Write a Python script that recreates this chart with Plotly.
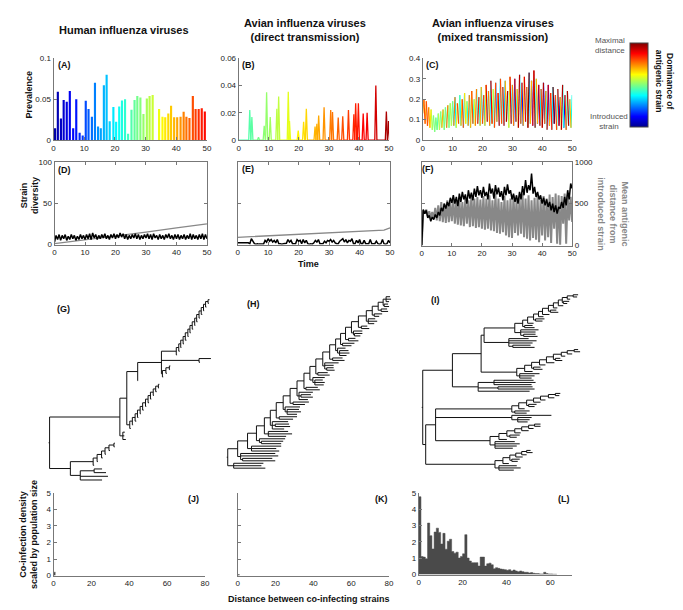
import numpy as np
import plotly.graph_objects as go
from plotly.colors import sample_colorscale

# ---------------------------------------------------------------- data
A_TIME = [0.5, 1.4, 2.4, 3.3, 4.3, 5.3, 6.4, 7.4, 8.5, 9.5, 10.5, 11.4, 12.5, 13.5, 14.5, 15.4, 16.4,
          17.3, 18.3, 19.5, 20.4, 21.4, 22.3, 23.3, 24.3, 25.4, 26.4, 27.3, 28.3, 29.3, 30.4, 31.3,
          32.3, 34.4, 35.5, 36.4, 37.4, 38.3, 39.3, 40.3, 41.4, 42.4, 43.3, 44.3, 45.4, 46.3, 47.3,
          48.3, 49.3]
A_PREV = [0.0145, 0.059, 0.0265, 0.049, 0.047, 0.060, 0.0145, 0.050, 0.009, 0.0056, 0.048, 0.038,
          0.0285, 0.070, 0.0165, 0.0145, 0.067, 0.080, 0.023, 0.0405, 0.0225, 0.041, 0.0485, 0.050,
          0.0076, 0.037, 0.049, 0.054, 0.052, 0.032, 0.051, 0.054, 0.055, 0.038, 0.0285, 0.028,
          0.0325, 0.042, 0.028, 0.028, 0.0285, 0.0345, 0.0285, 0.027, 0.054, 0.038, 0.038, 0.039,
          0.035]

B_TIME = [3.7, 4.4, 6.6, 8.5, 9.3, 10.5, 12.7, 13.3, 16.5, 16.9, 19.8, 21.6, 22.5, 25.4, 26.0, 26.6,
          28.4, 30.6, 31.2, 33.1, 34.6, 36.5, 38.3, 38.9, 39.8, 41.4, 42.7, 45.6, 49.1, 49.8]
B_PREV = [0.022, 0.017, 0.002, 0.0105, 0.035, 0.017, 0.023, 0.032, 0.0355, 0.014, 0.007, 0.0135,
          0.023, 0.010, 0.012, 0.018, 0.024, 0.022, 0.0205, 0.0165, 0.0175, 0.022, 0.019, 0.027,
          0.027, 0.0195, 0.020, 0.040, 0.021, 0.014]

C_PREV = [0.13, 0.20, 0.08, 0.19, 0.07, 0.16, 0.06, 0.15, 0.05, 0.12, 0.04, 0.11, 0.05, 0.13, 0.05,
          0.14, 0.06, 0.15, 0.05, 0.16, 0.06, 0.17, 0.06, 0.18, 0.07,
          0.19, 0.07, 0.21, 0.06, 0.18, 0.08, 0.22, 0.07, 0.20, 0.06, 0.23, 0.08, 0.19, 0.07, 0.22,
          0.06, 0.24, 0.08, 0.20, 0.07, 0.25, 0.08, 0.21, 0.07, 0.26,
          0.08, 0.22, 0.07, 0.27, 0.09, 0.24, 0.07, 0.29, 0.08, 0.25, 0.06, 0.28, 0.09, 0.23, 0.07,
          0.30, 0.08, 0.26, 0.07, 0.29, 0.09, 0.24, 0.06, 0.31, 0.08,
          0.27, 0.07, 0.30, 0.09, 0.25, 0.06, 0.32, 0.08, 0.28, 0.07, 0.31, 0.09, 0.26, 0.06, 0.33,
          0.08, 0.29, 0.07, 0.34, 0.06, 0.30, 0.08, 0.27, 0.07, 0.25,
          0.06, 0.28, 0.08, 0.24, 0.05, 0.27, 0.07, 0.23, 0.05, 0.26, 0.08, 0.22, 0.05, 0.25, 0.07,
          0.21, 0.05, 0.27, 0.06, 0.22, 0.05, 0.24, 0.07, 0.20, 0.06, 0.22]
C_STRAIN = [0.72, 0.78, 0.68, 0.80, 0.75, 0.70, 0.65, 0.55, 0.50, 0.48, 0.52, 0.50, 0.47, 0.55, 0.50,
            0.48, 0.70, 0.52, 0.50, 0.45, 0.75, 0.50, 0.48, 0.55, 0.52,
            0.40, 0.75, 0.35, 0.62, 0.78, 0.45, 0.38, 0.70, 0.80, 0.36, 0.65, 0.55, 0.40, 0.77, 0.35,
            0.68, 0.82, 0.40, 0.60, 0.75, 0.38, 0.85, 0.42, 0.70, 0.35,
            0.80, 0.30, 0.66, 0.88, 0.40, 0.74, 0.35, 0.90, 0.62, 0.38, 0.80, 0.25, 0.70, 0.92, 0.35,
            0.78, 0.40, 0.86, 0.30, 0.72, 0.95, 0.38, 0.65, 0.88, 0.33,
            0.75, 0.20, 0.90, 0.40, 0.70, 0.96, 0.35, 0.80, 0.15, 0.68, 0.92, 0.38, 0.78, 0.98, 0.30,
            0.72, 0.10, 0.85, 0.95, 0.40, 0.70, 0.12, 0.88, 0.36, 0.80,
            0.95, 0.10, 0.75, 0.40, 0.92, 0.08, 0.70, 0.85, 0.35, 0.98, 0.12, 0.78, 0.42, 0.90, 0.05,
            0.72, 0.95, 0.38, 0.10, 0.82, 0.45, 0.96, 0.35, 0.70, 0.40]

D_DIV = [3, 11, 6, 12, 5, 11, 7, 12, 5, 10, 6, 12, 7, 11, 5, 10, 6, 12, 7, 11, 6,
         12, 7, 13, 6, 14, 8, 12, 6, 11, 7, 12, 8, 13, 7, 11, 6, 12, 8, 13, 7,
         12, 8, 14, 9, 13, 7, 12, 6, 11, 7, 12, 8, 13, 7, 12, 6, 11, 7, 12, 8,
         13, 7, 12, 6, 13, 8, 11, 6, 12, 7, 11, 6, 12, 8, 13, 7, 11, 6, 12, 7,
         12, 6, 11, 7, 12, 6, 11, 7, 13, 6, 12, 7, 11, 6, 12, 7, 13, 6, 12, 7]
D_DIST_T = [0, 10, 20, 30, 40, 50]
D_DIST = [1, 5.5, 10, 15, 20, 25]

E_DIV = [2, 2, 2, 2, 2, 2, 2, 2, 1, 7, 4, 1, 0.5, 1, 0.5, 0.5, 1, 0.5, 5, 3, 7,
         4, 6, 3, 5, 2, 6, 1, 1, 0.5, 1, 1, 1.5, 6, 3, 5, 1, 1, 1, 6, 4,
         5, 1, 6, 2, 5, 1, 0.5, 1, 0.5, 2, 5, 3, 6, 1, 1, 1, 4, 2, 5, 4,
         6, 3, 5, 2, 1, 1, 4, 5, 7, 3, 6, 2, 5, 4, 7, 1, 1, 5, 2, 6,
         1, 1, 5, 1, 1, 1, 6, 1, 1, 1, 4, 1, 0.5, 1, 6, 1, 0.5, 1, 5, 2]
E_DIST_T = [0, 10, 20, 30, 40, 45, 48, 50]
E_DIST = [8.7, 10.5, 12.3, 14, 15.5, 16.5, 17.5, 20]

F_DIV = [0, 43, 38, 42, 33, 36, 29, 34, 31, 37, 33, 40, 36, 45, 41, 50, 44, 52, 47, 57, 51,
         60, 50, 58, 47, 62, 52, 64, 55, 61, 50, 66, 56, 63, 54, 68, 58, 71, 60, 66, 57,
         70, 59, 64, 55, 74, 62, 68, 56, 72, 61, 69, 58, 65, 54, 70, 60, 73, 62, 66, 55,
         62, 52, 60, 50, 64, 55, 71, 60, 78, 63, 72, 66, 86, 62, 70, 58, 64, 55, 60, 50,
         57, 48, 55, 46, 52, 42, 50, 40, 48, 38, 46, 44, 52, 45, 58, 48, 66, 55, 74, 68]
F_DIST = [0, 420, 380, 430, 350, 410, 330, 400, 320, 450, 300, 480, 290, 520, 280, 500, 270, 540, 280, 520, 290,
          550, 260, 530, 250, 560, 240, 520, 230, 570, 260, 540, 220, 600, 230, 560, 210, 580, 220, 550, 200,
          590, 190, 560, 200, 600, 180, 540, 170, 620, 150, 560, 140, 520, 160, 590, 120, 540, 100, 560, 90,
          600, 150, 550, 120, 580, 140, 620, 100, 560, 80, 600, 60, 540, 90, 570, 70, 600, 40, 550, 120,
          590, 60, 560, 100, 610, 30, 580, 200, 620, 20, 600, 10, 590, 260, 620, 20, 610, 300, 580, 280]

J_DENS = [0.2]
K_DENS = [0.06]
L_DENS = [4.76, 1.1, 1.07, 0.97, 3.15, 2.38, 1.57, 2.6, 2.84, 2.58, 1.87, 2.52, 1.55, 2.04, 2.16,
          1.41, 1.31, 1.37, 1.01, 1.11, 1.27, 2.44, 1.01, 0.83, 0.73, 0.73, 0.73, 0.52, 1.07, 1.07,
          0.52, 0.66, 0.7, 0.6, 0.36, 0.42, 0.38, 0.34, 0.32, 0.3, 0.26, 0.3, 0.22, 0.28, 0.22, 0.18,
          0.22, 0.18, 0.14, 0.14, 0.1, 0.12, 0.08, 0.06, 0.06, 0.04, 0.04, 0.14, 0.06, 0.04, 0.04,
          0.02, 0.02]

X_TICKS_TIME = [0, 10, 20, 30, 40, 50]
A_YTICKS, A_YTEXT = [0, 0.05, 0.1], ['0', '0.05', '0.1']
B_YTICKS, B_YTEXT = [0, 0.02, 0.04, 0.06], ['0', '0.02', '0.04', '0.06']
C_YTICKS, C_YTEXT = [0, 0.1, 0.2, 0.3, 0.4], ['0', '0.1', '0.2', '0.3', '0.4']
DIV_TICKS = [0, 50, 100]
DIST_TICKS = [0, 500, 1000]
DENS_TICKS = [0, 1, 2, 3, 4, 5]
DIST80_TICKS = [0, 20, 40, 60, 80]
DIST60_TICKS = [0, 20, 40, 60]


# ---------------------------------------------------------------- trees
def ladder(stem, dxs, tips, top):
    node = top
    for k in range(len(tips) - 1, -1, -1):
        node = [stem if k == 0 else dxs[k - 1], node, tips[k]]
    return node


G_LAD1 = ladder(15, [2.5, 2.0, 2.4, 2.2, 2.6, 2.1, 2.3, 2.5, 2.0, 2.4, 2.2, 2.3, 2.1, 2.5],
                [0.8, 1.0, 0.6, 0.9, 1.2, 0.7, 0.8, 1.0, 0.6, 0.9, 0.8, 1.1, 0.7, 0.9, 0.8], 1.5)
G_LONG = [38, 12, 1.0]
G_LAD2 = ladder(1, [3.5, 3.5], [0.8, 1.0, 0.7], 1.0)
G_LAD3 = ladder(3, [2.6, 2.8, 2.4, 2.7, 2.5, 2.9, 2.6, 2.4, 2.8, 2.5, 2.7],
                [1.0, 0.8, 1.2, 0.9, 0.7, 1.1, 0.8, 1.0, 0.9, 0.8, 1.0, 0.7], 1.0)
G_LAD4 = ladder(23, [4.0, 4.5, 3.5, 4.0, 5.0], [1.0, 0.8, 1.2, 0.9, 1.0, 0.8], 1.0)
TREE_G = [1,
          [71, [7, [11, [24, G_LAD1, G_LONG, G_LAD2], 0.4], G_LAD3], [3, 2.0, 1.5, 3.0]],
          [21, G_LAD4, [10, [14, 8, 12], 28, 22]]]

H_DX = [10, 9, 8, 6, 6, 7, 7, 7, 7, 6, 6, 7, 7, 6, 5, 5, 6, 7, 8, 6, 6, 5]
H_SIDE = [[3, 35, 38, [2, 30, 33]], [4, 30, 25, 28], [3, 26, [2, 22, 20]], [4, 20, 24, 18],
          [2, 16, [3, 14, 15], 12], [3, 18, 14], [2, 15, [2, 12, 14, 10]], [3, 16, 12],
          [2, 14, [2, 10, 12], 9], [2, 12, 14], [3, 12, [2, 8, 10, 9]], [2, 10, 12],
          [2, 14, 9, [2, 7, 8]], [3, 10, 12], [2, 8, [2, 9, 10, 7]], [2, 12, 9], [3, 7, 10],
          [2, 9, [1, 8, 6]], [3, 6, 8], [2, 7, 9, 6], [2, 8, 5], [3, 6, 7], [1, 4, 5]]
TREE_H = [1, ladder(10, H_DX, H_SIDE, [3, 4, 5, 3]), [6, 30, 28, 32]]

I_L1 = ladder(8, [5, 6, 5, 4, 6, 5, 5, 4, 5, 6],
              [[2, 8, 10], 6, [2, 9, 7], 5, 7, [2, 6, 8], 4, 5, [1, 6, 4], 3, 4], 5)
I_A1b = ladder(36, [8, 7, 8, 7, 7, 8, 6, 7],
               [[3, 20, 15, 12], 8, [2, 7, 9], 6, 8, [2, 5, 7], 4, 5, 6], 4)
I_B1a = ladder(77, [7, 8, 7, 7, 8, 7], [[3, 15, 12], 6, [2, 8, 6], 7, 5, 6, 4], 5)
I_B1c = ladder(55, [9, 8, 8, 7, 7, 6], [[5, 20, 25, 22, 18], 8, [3, 10, 7], 6, 7, 5, 6], 6)
I_B2 = ladder(70, [8, 7, 6, 6, 5], [[4, 18, 22, 15], 6, [2, 8, 6], 7, 5, 6], 4)
TREE_I = [1,
          [30,
           [29, [3, [31, I_L1, [6, 18, 15, [3, 12, 14]]], [25, 20, 28, 24, [4, 18, 22]]], I_A1b],
           [26, [16, 40, 42, 38], [20, 35, 37], 52]],
          [3, [10, I_B1a, [77, 40, [6, 14, 12, 10]], I_B1c], I_B2]]


def tree_segments(tree):
    xs, ys, cnt = [], [], [0]

    def rec(nd, x0):
        if not isinstance(nd, list):
            x1 = x0 + nd
            y = cnt[0]
            cnt[0] += 1
            xs.extend([x0, x1, None]); ys.extend([y, y, None])
            return y
        x1 = x0 + nd[0]
        cy = [rec(c, x1) for c in nd[1:]]
        y = (min(cy) + max(cy)) / 2
        xs.extend([x1, x1, None]); ys.extend([min(cy), max(cy), None])
        xs.extend([x0, x1, None]); ys.extend([y, y, None])
        return y

    rec(tree, 0)
    return xs, ys, cnt[0]


# ---------------------------------------------------------------- figure
W, H = 683, 610
FONT = 'Liberation Sans, Arial, Helvetica, sans-serif'
TICKFONT = dict(family=FONT, size=8, color='#222')
JET = [[0.0, 'rgb(0,0,143)'], [0.125, 'rgb(0,0,255)'], [0.375, 'rgb(0,255,255)'],
       [0.625, 'rgb(255,255,0)'], [0.875, 'rgb(255,0,0)'], [1.0, 'rgb(128,0,0)']]
AX = dict(showline=True, linecolor='#777', linewidth=1, ticks='inside', ticklen=3,
          tickcolor='#777', tickwidth=1, tickfont=TICKFONT, showgrid=False,
          zeroline=False, fixedrange=True)

axes = {}


def add_axes(n, x0, x1, y0, y1, xkw, ykw):
    s = '' if n == 1 else str(n)
    xa = dict(AX); xa.update(domain=[x0 / W, x1 / W], anchor='y' + s); xa.update(xkw)
    ya = dict(AX); ya.update(domain=[1 - y1 / H, 1 - y0 / H], anchor='x' + s); ya.update(ykw)
    axes['xaxis' + s] = xa
    axes['yaxis' + s] = ya


def jet(v):
    return sample_colorscale(JET, [min(max(v, 0), 1)])[0]


fig = go.Figure()
tx = dict(range=[0, 50], tickvals=X_TICKS_TIME)

# --- row 1
add_axes(1, 44, 199, 47, 130, tx, dict(range=[0, 0.1], tickvals=A_YTICKS, ticktext=A_YTEXT))
add_axes(2, 231, 383, 47, 130, tx, dict(range=[0, 0.06], tickvals=B_YTICKS, ticktext=B_YTEXT))
add_axes(3, 417, 568, 47, 130, tx, dict(range=[0, 0.4], tickvals=C_YTICKS, ticktext=C_YTEXT))

fig.add_trace(go.Bar(x=A_TIME, y=A_PREV, width=0.7, xaxis='x', yaxis='y',
                     marker=dict(color=A_TIME, colorscale=JET, cmin=-1, cmax=57, line_width=0)))

w = 0.35
prev_end = 0.0
for t, h in zip(B_TIME, B_PREV):
    fig.add_trace(go.Scatter(x=[prev_end, t - w, t, t + w], y=[0, 0, h, 0], mode='lines',
                             xaxis='x2', yaxis='y2',
                             line=dict(color=jet((t + 38) / 91), width=1.3)))
    prev_end = t + w

C_T = np.round(np.arange(len(C_PREV)) * 0.4, 2)
bins = {}
for i in range(len(C_PREV) - 1):
    key = round(C_STRAIN[i] * 20) / 20
    xs, ys = bins.setdefault(key, ([], []))
    xs.extend([C_T[i], C_T[i + 1], None]); ys.extend([C_PREV[i], C_PREV[i + 1], None])
for key, (xs, ys) in sorted(bins.items()):
    fig.add_trace(go.Scatter(x=xs, y=ys, mode='lines', xaxis='x3', yaxis='y3',
                             line=dict(color=jet(key), width=1.2)))

# colourbar
fig.add_trace(go.Scatter(x=[None], y=[None], mode='markers', xaxis='x', yaxis='y',
                         marker=dict(color=[0], colorscale=JET, cmin=0, cmax=1, showscale=True,
                                     colorbar=dict(x=626 / W, xanchor='left', y=1 - 74 / H,
                                                   yanchor='middle', len=84, lenmode='pixels',
                                                   thickness=18, thicknessmode='pixels',
                                                   outlinewidth=1, outlinecolor='#444',
                                                   showticklabels=False, ticks='',
                                                   xpad=0, ypad=0))))

# --- row 2
T2 = np.arange(len(D_DIV)) * 0.5
boxx = dict(range=[0, 50], tickvals=X_TICKS_TIME, mirror='ticks')
add_axes(4, 45, 199, 152, 236, boxx, dict(range=[0, 100], tickvals=DIV_TICKS, mirror='ticks'))
add_axes(5, 230, 384, 152, 236, boxx, dict(range=[0, 100], tickvals=DIV_TICKS, mirror='ticks',
                                           showticklabels=False))
add_axes(6, 416, 568, 152, 237, boxx, dict(range=[0, 1000], tickvals=DIST_TICKS, side='right'))
axes['yaxis7'] = dict(AX, overlaying='y6', side='left', anchor='x6', range=[0, 100],
                      tickvals=DIV_TICKS, showticklabels=False)

fig.add_trace(go.Scatter(x=D_DIST_T, y=D_DIST, mode='lines', xaxis='x4', yaxis='y4',
                         line=dict(color='#888', width=1.3)))
fig.add_trace(go.Scatter(x=T2, y=D_DIV, mode='lines', xaxis='x4', yaxis='y4',
                         line=dict(color='black', width=1.5)))
fig.add_trace(go.Scatter(x=E_DIST_T, y=E_DIST, mode='lines', xaxis='x5', yaxis='y5',
                         line=dict(color='#888', width=1.3)))
fig.add_trace(go.Scatter(x=T2, y=E_DIV, mode='lines', xaxis='x5', yaxis='y5',
                         line=dict(color='black', width=1.5)))
fig.add_trace(go.Scatter(x=T2, y=F_DIST, mode='lines', xaxis='x6', yaxis='y6',
                         line=dict(color='#888', width=2)))
fig.add_trace(go.Scatter(x=T2, y=F_DIV, mode='lines', xaxis='x6', yaxis='y7',
                         line=dict(color='black', width=1.5)))

# --- row 3 : trees
for n, tree, (x0, x1, root_px), (ytop, ybot) in [
        (8, TREE_G, (37, 210, 39), (292, 475)),
        (9, TREE_H, (217, 392, 219), (289, 463)),
        (10, TREE_I, (413, 600, 416), (287, 465))]:
    xs, ys, nleaf = tree_segments(tree)
    s = (ybot - ytop) / (nleaf - 1)
    off = root_px - x0
    add_axes(n, x0, x1, ytop - s / 2, ybot + s / 2,
             dict(visible=False, range=[-off, (x1 - x0) - off]),
             dict(visible=False, range=[nleaf - 0.5, -0.5]))
    fig.add_trace(go.Scatter(x=xs, y=ys, mode='lines', xaxis='x%d' % n, yaxis='y%d' % n,
                             line=dict(color='#111', width=1)))

# --- row 4 : co-infection histograms drawn as filled step outlines
add_axes(11, 44, 197, 488, 572, dict(range=[0, 80], tickvals=DIST80_TICKS, ticks=''),
         dict(range=[0, 5], tickvals=DENS_TICKS))
add_axes(12, 230, 383, 488, 572, dict(range=[0, 80], tickvals=DIST80_TICKS, ticks=''),
         dict(range=[0, 5], tickvals=DENS_TICKS, showticklabels=False))
add_axes(13, 413, 568, 488, 571, dict(range=[0, 70], tickvals=DIST60_TICKS, ticks=''),
         dict(range=[0, 5], tickvals=DENS_TICKS))
for n, dens in [(11, J_DENS), (12, K_DENS), (13, L_DENS)]:
    edges = np.arange(len(dens) + 1)
    fig.add_trace(go.Scatter(x=edges, y=list(dens) + [dens[-1]], mode='lines',
                             line=dict(shape='hv', color='#4a4a4a', width=0.5),
                             fill='tozeroy', fillcolor='#4a4a4a',
                             xaxis='x%d' % n, yaxis='y%d' % n))

# ---------------------------------------------------------------- text
ann = []


def text(t, px, py, size=9, bold=True, angle=0, color='#111', xa='center', ya='middle'):
    ann.append(dict(text=('<b>%s</b>' % t) if bold else t, x=px / W, y=1 - py / H,
                    xref='paper', yref='paper', showarrow=False, textangle=angle,
                    xanchor=xa, yanchor=ya, font=dict(family=FONT, size=size, color=color)))


text('Human influenza viruses', 115, 18, size=11)
text('Avian influenza viruses<br>(direct transmission)', 298, 18, size=11)
text('Avian influenza viruses<br>(mixed transmission)', 488, 18, size=11)
text('Prevalence', 19, 84, angle=-90)
text('Strain<br>diversity', 20, 186, angle=-90)
text('Time', 302, 256)
text('Mean antigenic<br>distance from<br>introduced strain', 609, 205, angle=90, color='#888')
text('Maximal<br>distance', 606, 34, size=8, bold=False, color='#555')
text('Introduced<br>strain', 605, 111, size=8, bold=False, color='#555')
text('Dominance of<br>antigenic strain', 661, 70, size=8.5, angle=90)
text('Co-infection density<br>scaled by population size', 19, 530, angle=-90)
text('Distance between co-infecting strains', 302, 596)
for lab, px, py in [('(A)', 46, 54), ('(B)', 232, 54), ('(C)', 418, 54),
                    ('(D)', 46, 160), ('(E)', 232, 159), ('(F)', 414, 159),
                    ('(G)', 45, 301), ('(H)', 237, 296), ('(I)', 423, 292),
                    ('(J)', 178, 494), ('(K)', 367, 494), ('(L)', 552, 494)]:
    text(lab, px, py, xa='left')

fig.update_layout(width=W, height=H, margin=dict(l=0, r=0, t=0, b=0),
                  paper_bgcolor='white', plot_bgcolor='rgba(0,0,0,0)', showlegend=False,
                  annotations=ann, font=dict(family=FONT), **axes)
fig.write_html('out.html')
